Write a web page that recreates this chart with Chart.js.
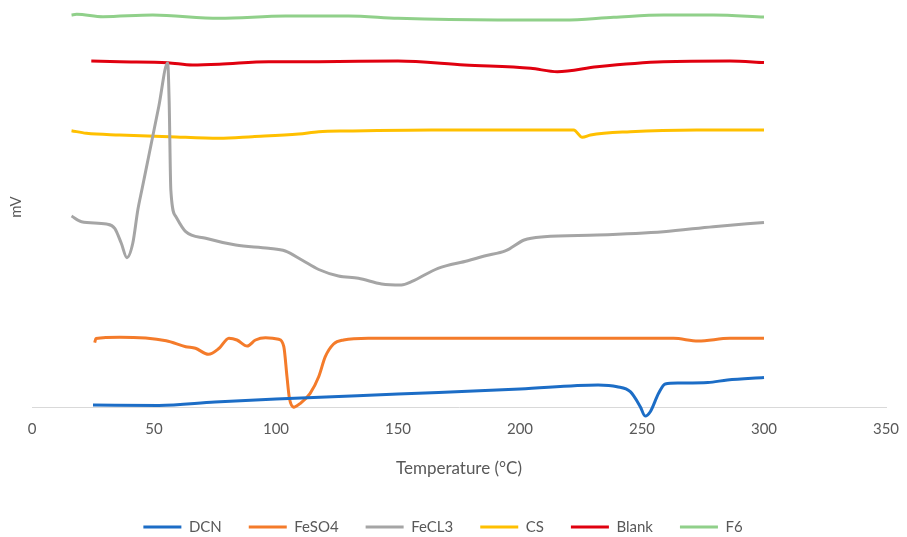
<!DOCTYPE html>
<html>
<head>
<meta charset="utf-8">
<script src="https://cdn.jsdelivr.net/npm/chart.js@4.4.1/dist/chart.umd.min.js"></script>
<style>
  html, body { margin: 0; padding: 0; background: #fff; }
  canvas { display: block; }
</style>
</head>
<body>
<canvas id="dscChart" width="907" height="537"></canvas>
<script>
// temperature (°C) and signal (mV, arbitrary offset)
const dcnTemp = [25, 52, 75, 100, 150, 200, 232, 239.8, 245.2, 249.3, 251.3, 253.4, 256.8, 259.5, 265, 277, 285, 300]
const dcnMv = [0.2, 0.15, 0.5, 0.8, 1.3, 1.8, 2.2, 2.03, 1.53, 0.03, -0.9, -0.47, 1.37, 2.3, 2.4, 2.45, 2.7, 2.95]

const feso4Temp = [25.7, 26.2, 36, 55, 63, 67, 72.3, 76.7, 80.7, 84, 88.2, 91.6, 95.7, 101.1, 103.2, 104.5, 105.5, 107.3, 110, 114, 117.5, 120.2, 123.6, 127.7, 137.8, 200, 262.9, 273, 286, 300]
const feso4Mv = [6.43, 6.85, 6.97, 6.63, 6.03, 5.87, 5.27, 5.87, 6.87, 6.7, 6.1, 6.7, 6.93, 6.77, 6.03, 3.03, 0.87, -0.03, 0.37, 1.37, 3.03, 5.03, 6.3, 6.7, 6.87, 6.87, 6.87, 6.6, 6.87, 6.87]

const fecl3Temp = [16.2, 20.3, 30.5, 33.9, 36.6, 38.9, 41.3, 43.4, 45.1, 48.1, 52, 55.6, 56.2, 56.9, 59, 63, 71.2, 83.5, 97, 103.8, 110.6, 117.5, 125.6, 133.8, 143.3, 151.4, 155.5, 166.4, 178.6, 185.4, 194.2, 201.7, 209.9, 231.6, 258.8, 279.2, 300]
const fecl3Mv = [19.1, 18.53, 18.3, 17.87, 16.37, 14.93, 16.37, 19.75, 21.8, 25.4, 30.1, 34.4, 30.7, 21.7, 19.03, 17.53, 16.87, 16.2, 15.87, 15.6, 14.7, 13.75, 13.1, 12.87, 12.3, 12.2, 12.53, 13.87, 14.63, 15.1, 15.63, 16.7, 17.03, 17.2, 17.53, 18.03, 18.45]

const csTemp = [16.2, 22.3, 35.9, 56.3, 76.7, 90.3, 109.3, 117.5, 129.7, 163.7, 222, 225.5, 228.9, 245.2, 272.4, 300]
const csMv = [27.63, 27.37, 27.2, 27.03, 26.87, 27.03, 27.3, 27.53, 27.6, 27.7, 27.7, 26.97, 27.2, 27.53, 27.7, 27.7]

const blankTemp = [24.3, 35.9, 55.6, 65.8, 76.7, 97, 117.5, 150, 177.3, 204.4, 215.3, 231.6, 258.8, 286, 300]
const blankMv = [34.6, 34.53, 34.43, 34.2, 34.27, 34.53, 34.53, 34.6, 34.2, 33.87, 33.53, 34.03, 34.53, 34.6, 34.45]

const f6Temp = [16.2, 18.3, 29.1, 49.5, 76.7, 103.9, 129.7, 150, 190.9, 218, 238.4, 258.8, 279.2, 300]
const f6Mv = [39.2, 39.27, 39.03, 39.2, 38.87, 39.1, 39.1, 38.87, 38.7, 38.7, 38.97, 39.2, 39.2, 39.0]

const xTicks = [0, 50, 100, 150, 200, 250, 300, 350]

const toPoints = (xs, ys) => xs.map((x, i) => ({ x, y: ys[i] }))

const series = [
  { label: 'DCN', temp: dcnTemp, mv: dcnMv, color: '#1C6DC6' },
  { label: 'FeSO4', temp: feso4Temp, mv: feso4Mv, color: '#F47B2A' },
  { label: 'FeCL3', temp: fecl3Temp, mv: fecl3Mv, color: '#A5A5A5' },
  { label: 'CS', temp: csTemp, mv: csMv, color: '#FFC000' },
  { label: 'Blank', temp: blankTemp, mv: blankMv, color: '#E0000F' },
  { label: 'F6', temp: f6Temp, mv: f6Mv, color: '#90D08A' }
]

const textColor = '#595959'
const fontFamily = 'Lato, "Liberation Sans", sans-serif'

const ctx = document.getElementById('dscChart').getContext('2d')
new Chart(ctx, {
  type: 'line',
  data: {
    datasets: series.map(s => ({
      label: s.label,
      data: toPoints(s.temp, s.mv),
      borderColor: s.color,
      backgroundColor: s.color,
      borderWidth: 3,
      pointRadius: 0,
      cubicInterpolationMode: 'monotone',
      clip: false
    }))
  },
  options: {
    responsive: false,
    animation: false,
    layout: { padding: { left: 0, right: 21, top: 7, bottom: -7.5 } },
    scales: {
      x: {
        type: 'linear',
        min: 0,
        max: 350,
        afterBuildTicks: scale => { scale.ticks = xTicks.map(v => ({ value: v })) },
        afterFit: scale => {
          scale.height = 85.5
          scale.paddingLeft = 0
          scale.paddingRight = 0
        },
        grid: { display: false, drawTicks: false },
        border: { display: true, color: '#D9D9D9', width: 1 },
        ticks: { color: textColor, padding: 13, font: { family: fontFamily, size: 15 } },
        title: {
          display: true,
          text: 'Temperature (°C)',
          color: textColor,
          font: { family: fontFamily, size: 17 },
          padding: { top: 0, bottom: 14 }
        }
      },
      y: {
        min: 0,
        max: 40,
        afterFit: scale => {
          scale.width = 32
          scale.paddingTop = 0
          scale.paddingBottom = 0
        },
        grid: { display: false, drawTicks: false },
        border: { display: false },
        ticks: { display: false },
        title: {
          display: true,
          text: 'mV',
          color: textColor,
          font: { family: fontFamily, size: 15 },
          padding: { top: 7, bottom: 7 }
        }
      }
    },
    plugins: {
      tooltip: { enabled: false },
      legend: {
        position: 'bottom',
        labels: {
          usePointStyle: true,
          pointStyle: 'line',
          pointStyleWidth: 38,
          padding: 27,
          color: textColor,
          font: { family: fontFamily, size: 15 }
        }
      }
    }
  }
})
</script>
</body>
</html>
